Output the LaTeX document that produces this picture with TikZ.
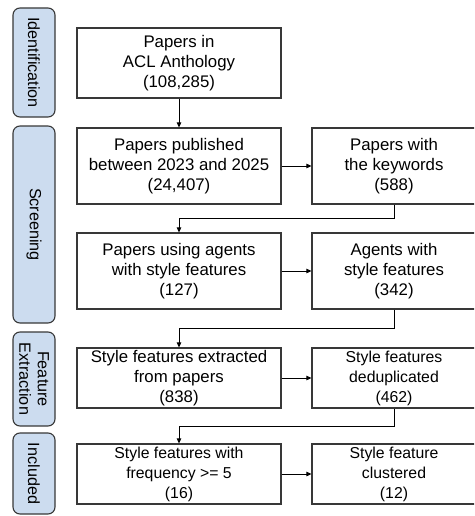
\documentclass[tikz,border=0pt]{standalone}
\usepackage{fontspec}
\setmainfont{Liberation Sans}
\usetikzlibrary{arrows.meta}
\definecolor{sidefill}{HTML}{CCDCEF}
\definecolor{edgec}{HTML}{383838}
\begin{document}
\begin{tikzpicture}[x=1pt,y=-1pt,
  box/.style={draw=edgec, line width=1.2pt, fill=white, align=center, inner sep=0pt,
    font=\fontsize{16.8}{20}\selectfont},
  boxs/.style={box, font=\fontsize{15.8}{20}\selectfont},
  lbox/.style={box, minimum width=204pt},
  rbox/.style={minimum width=164pt},
  side/.style={draw=edgec, line width=1.1pt, fill=sidefill, rounded corners=7pt,
    rotate=-90, minimum height=42pt, align=center, inner sep=0pt,
    font=\fontsize{16.2}{18.5}\selectfont},
  arr/.style={draw=black, line width=1pt, -{Triangle[length=5pt,width=4.5pt]}}
]
\useasboundingbox (0,0) rectangle (474,516);
\clip (0,0) rectangle (474,516);

% side labels
\node[side, minimum width=109pt] (sid) at (34,62.5) {Identification};
\node[side, minimum width=197pt] (sscr) at (34,224.5) {Screening};
\node[side, minimum width=94pt] (sfe) at (34,379) {Feature\\Extraction};
\node[side, minimum width=81pt] (sinc) at (34,473.5) {Included};

% main boxes
\node[lbox, minimum height=70pt] (b1) at (179,63) {Papers in\\ACL Anthology\\(108,285)};

\node[lbox, minimum height=76pt] (l2) at (179,166) {Papers published\\between 2023 and 2025\\(24,407)};
\node[box, rbox, minimum height=76pt] (r2) at (394,166) {Papers with\\the keywords\\(588)};

\node[lbox, minimum height=76pt] (l3) at (179,271) {Papers using agents\\with style features\\(127)};
\node[box, rbox, minimum height=76pt] (r3) at (394,271) {Agents with\\style features\\(342)};

\node[lbox, minimum height=60pt] (l4) at (179,378) {Style features extracted\\from papers\\(838)};
\node[boxs, rbox, minimum height=60pt] (r4) at (394,378) {Style features\\deduplicated\\(462)};

\node[boxs, minimum width=204pt, minimum height=60pt] (l5) at (179,474) {Style features with\\frequency >= 5\\(16)};
\node[boxs, rbox, minimum height=60pt] (r5) at (394,474) {Style feature\\clustered\\(12)};

% turning points
\coordinate (m1) at (0,218.5);
\coordinate (m2) at (0,328.5);
\coordinate (m3) at (0,426.5);

% connectors
\draw[arr] (b1.south) -- (l2.north);
\draw[arr] (l2.east) -- (r2.west);
\draw[arr] (r2.south) -- (r2.south |- m1) -| (l3.north);
\draw[arr] (l3.east) -- (r3.west);
\draw[arr] (r3.south) -- (r3.south |- m2) -| (l4.north);
\draw[arr] (l4.east) -- (r4.west);
\draw[arr] (r4.south) -- (r4.south |- m3) -| (l5.north);
\draw[arr] (l5.east) -- (r5.west);
\end{tikzpicture}
\end{document}
